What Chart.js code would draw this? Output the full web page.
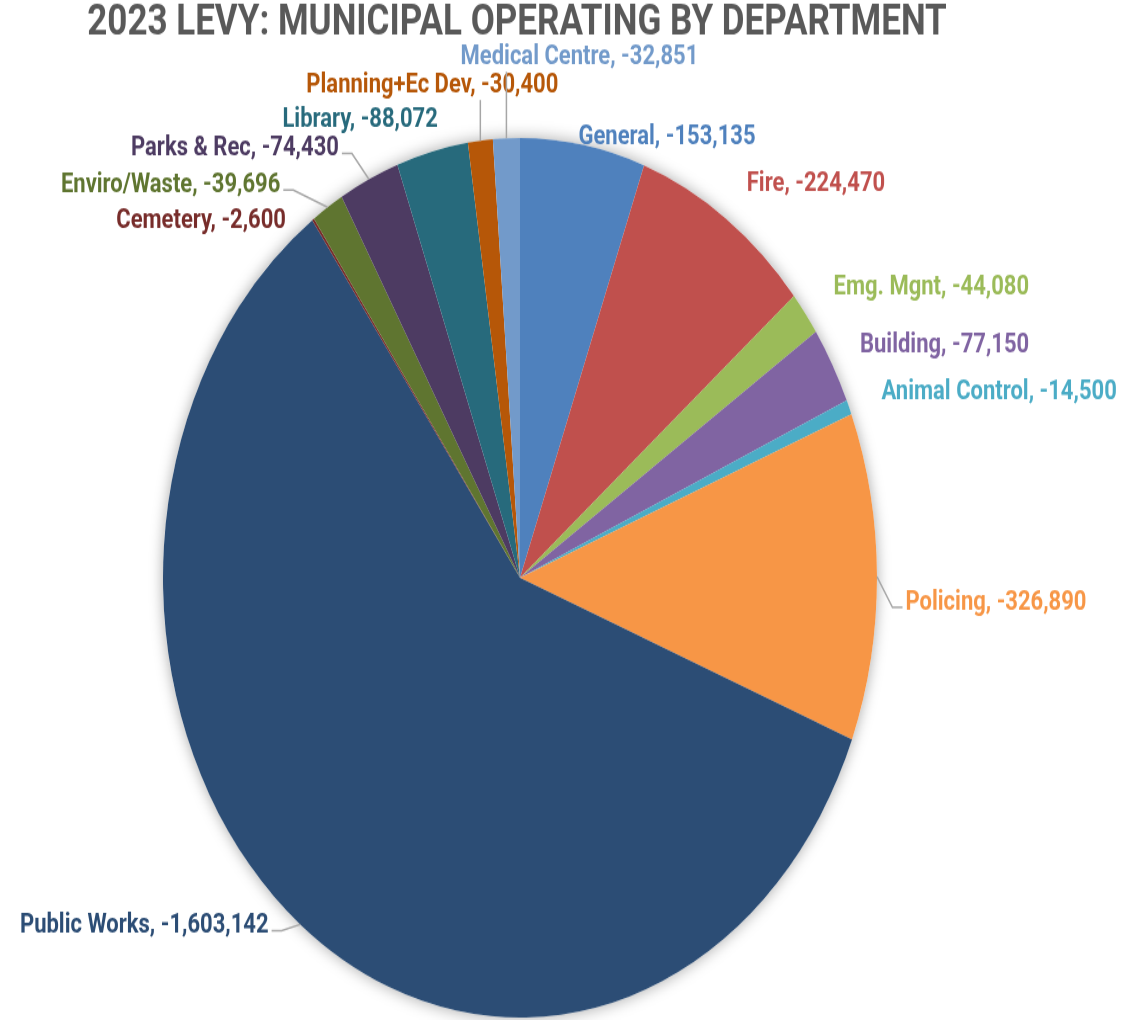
<!DOCTYPE html>
<html>
<head>
<meta charset="utf-8">
<script src="https://cdn.jsdelivr.net/npm/chart.js@4.4.1/dist/chart.umd.min.js"></script>
<style>
  html, body { margin: 0; padding: 0; background: #fff; }
  #myCanvas { display: block; width: 1125px; height: 1020px; }
</style>
</head>
<body>
<canvas id="myCanvas" width="1125" height="828" style="width:1125px;height:1020px"></canvas>
<script>
const departments = ['General', 'Fire', 'Emg. Mgnt', 'Building', 'Animal Control', 'Policing',
    'Public Works', 'Cemetery', 'Enviro/Waste', 'Parks & Rec', 'Library', 'Planning+Ec Dev', 'Medical Centre'];
const levy = [-153135, -224470, -44080, -77150, -14500, -326890,
    -1603142, -2600, -39696, -74430, -88072, -30400, -32851];
const sliceColors = ['#4F81BD', '#C0504D', '#9BBB59', '#8064A2', '#4BACC6', '#F79646',
    '#2C4D75', '#772C2A', '#5F7530', '#4D3B62', '#276A7C', '#B65708', '#729ACA'];

const titleText = '2023 LEVY: MUNICIPAL OPERATING BY DEPARTMENT';
const labelFont = 'bold 22px "Liberation Sans Narrow", "Roboto", sans-serif';

// label offset from the slice's outer edge (canvas px) and leader style
const labelOffsets = [
    [84, -6], [90, -28], [126, -21], [112, -16], [150, -12], [119, 21],
    [-156, 1], [-112, 1], [-157, -18], [-134, -25], [-72, -25], [-48, -45], [73, -66]
];
const leaders = [null, null, null, null, null, 'elbow', 'elbow', null, 'elbow', 'elbow', null, 'vertical', 'vertical'];

const shadowPlugin = {
    id: 'pieShadow',
    beforeDatasetsDraw(chart) {
        const arc = chart.getDatasetMeta(0).data[0];
        const ctx = chart.ctx;
        ctx.save();
        ctx.shadowColor = 'rgba(0,0,0,0.35)';
        ctx.shadowBlur = 14;
        ctx.fillStyle = '#ffffff';
        ctx.beginPath();
        ctx.arc(arc.x, arc.y, arc.outerRadius, 0, Math.PI * 2);
        ctx.fill();
        ctx.restore();
    }
};

const labelPlugin = {
    id: 'sliceLabels',
    afterDatasetsDraw(chart) {
        const ctx = chart.ctx;
        const meta = chart.getDatasetMeta(0);
        ctx.save();
        ctx.font = labelFont;
        ctx.textBaseline = 'middle';
        ctx.textAlign = 'center';
        meta.data.forEach(function (arc, i) {
            const mid = (arc.startAngle + arc.endAngle) / 2;
            const ex = arc.x + Math.cos(mid) * arc.outerRadius;
            const ey = arc.y + Math.sin(mid) * arc.outerRadius;
            const lx = ex + labelOffsets[i][0];
            const ly = ey + labelOffsets[i][1];
            const text = departments[i] + ', ' + levy[i].toLocaleString('en-US');
            const w = ctx.measureText(text).width;

            if (leaders[i]) {
                ctx.strokeStyle = '#a6a6a6';
                ctx.lineWidth = 1.5;
                ctx.beginPath();
                if (leaders[i] === 'vertical') {
                    ctx.moveTo(ex, ey);
                    ctx.lineTo(ex, ly + 12);
                } else {
                    const right = lx > ex;
                    const edge = right ? lx - w / 2 - 3 : lx + w / 2 + 3;
                    const knee = right ? edge - 10 : edge + 10;
                    ctx.moveTo(ex, ey);
                    ctx.lineTo(knee, ly + 4);
                    ctx.lineTo(edge, ly + 4);
                }
                ctx.stroke();
            }

            ctx.fillStyle = sliceColors[i];
            ctx.fillText(text, lx, ly);
        });

        ctx.fillStyle = '#595959';
        ctx.font = 'bold 35px "Liberation Sans Narrow", "Roboto", sans-serif';
        ctx.fillText(titleText, 517, 19);
        ctx.restore();
    }
};

new Chart(document.getElementById('myCanvas'), {
    type: 'pie',
    data: {
        labels: departments,
        datasets: [{
            data: levy,
            backgroundColor: sliceColors,
            borderWidth: 0
        }]
    },
    options: {
        responsive: false,
        devicePixelRatio: 1,
        animation: false,
        layout: { padding: { top: 112, left: 163, right: 248, bottom: 2 } },
        plugins: {
            legend: { display: false },
            tooltip: { enabled: false }
        }
    },
    plugins: [shadowPlugin, labelPlugin]
});
</script>
</body>
</html>
